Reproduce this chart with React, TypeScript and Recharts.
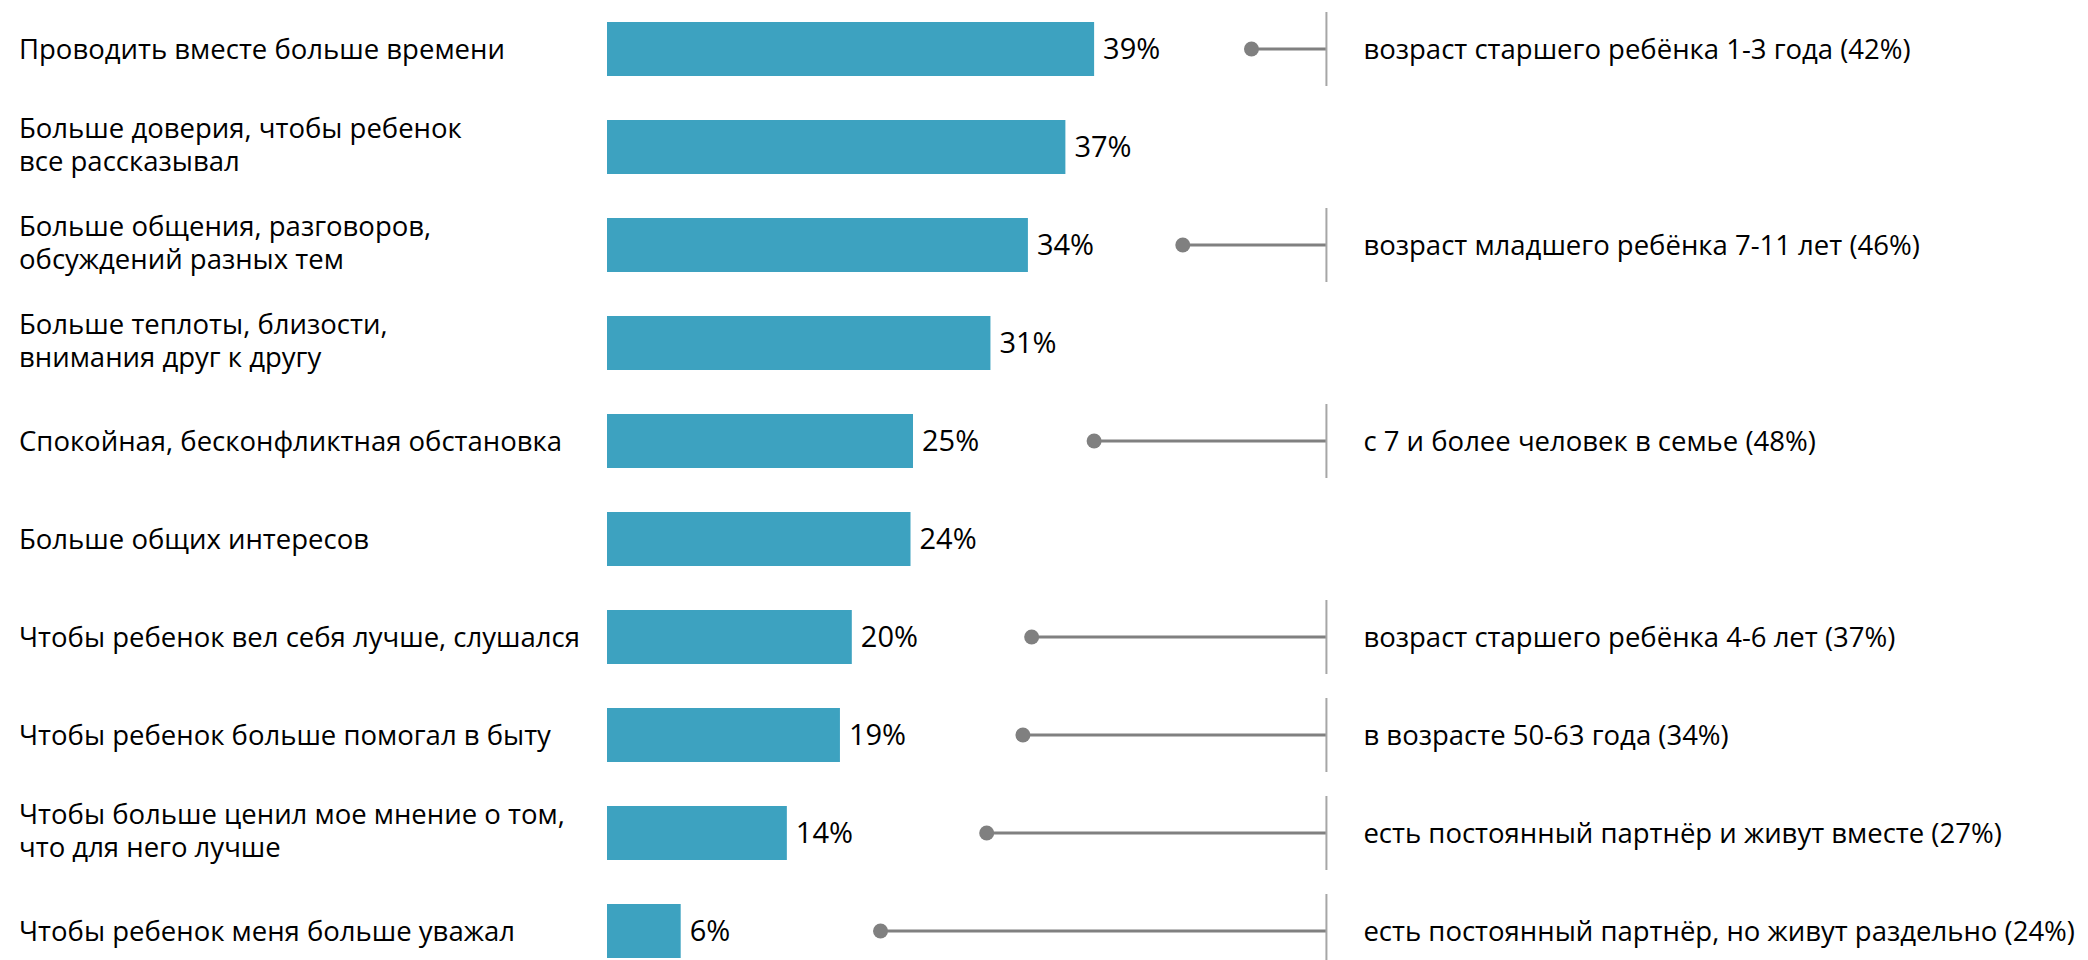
import { ComposedChart, Bar, XAxis, YAxis, LabelList } from 'recharts'

const categories = [
  'Проводить вместе больше времени',
  'Больше доверия, чтобы ребенок\nвсе рассказывал',
  'Больше общения, разговоров,\nобсуждений разных тем',
  'Больше теплоты, близости,\nвнимания друг к другу',
  'Спокойная, бесконфликтная обстановка',
  'Больше общих интересов',
  'Чтобы ребенок вел себя лучше, слушался',
  'Чтобы ребенок больше помогал в быту',
  'Чтобы больше ценил мое мнение о том,\nчто для него лучше',
  'Чтобы ребенок меня больше уважал',
]

// share of respondents, %
const shares = [39.0, 36.7, 33.7, 30.7, 24.5, 24.3, 19.6, 18.65, 14.4, 5.9]

// lollipop marker start (same scale as the bars) and the common end point
const markerFrom = [51.6, null, 46.1, null, 39.0, null, 34.0, 33.3, 30.4, 21.9]
const markerTo = 57.6

const notes = [
  'возраст старшего ребёнка 1-3 года (42%)',
  '',
  'возраст младшего ребёнка 7-11 лет (46%)',
  '',
  'с 7 и более человек в семье (48%)',
  '',
  'возраст старшего ребёнка 4-6 лет (37%)',
  'в возрасте 50-63 года (34%)',
  'есть постоянный партнёр и живут вместе (27%)',
  'есть постоянный партнёр, но живут раздельно (24%)',
]

const FONT = '"Open Sans", sans-serif'
const FONT_SIZE = 27.5
const BAR_COLOR = '#3da2c0'
const MARKER_COLOR = '#808080'

const data = categories.map((name, i) => ({
  name,
  share: shares[i],
  marker: markerFrom[i] != null ? [markerFrom[i], markerTo] : null,
  note: notes[i],
}))

function CategoryTick({ y, payload }: any) {
  const lines = String(payload.value).split('\n')
  const lineH = 33
  const start = -((lines.length - 1) * lineH) / 2
  return (
    <text x={19} y={y} fontFamily={FONT} fontSize={FONT_SIZE} fill="#000" textAnchor="start">
      {lines.map((l, i) => (
        <tspan key={i} x={19} y={y + start + i * lineH - (lines.length > 1 ? 2 : 0)} dy="0.36em">
          {l}
        </tspan>
      ))}
    </text>
  )
}

function Marker(props: any) {
  const { x, y, width, height, payload } = props
  if (!payload || !payload.note || width == null || isNaN(width)) return null
  const cy = y + height / 2
  const x1 = x + width
  return (
    <g>
      <line x1={x} x2={x1} y1={cy} y2={cy} stroke={MARKER_COLOR} strokeWidth={3} />
      <circle cx={x} cy={cy} r={7.5} fill={MARKER_COLOR} />
      <line x1={x1} x2={x1} y1={cy - 37} y2={cy + 37} stroke="#a6a6a6" strokeWidth={2} />
      <text x={x1 + 37} y={cy} dy="0.36em" fontFamily={FONT} fontSize={FONT_SIZE} fill="#000">
        {payload.note}
      </text>
    </g>
  )
}

export default function App() {
  return (
    <div style={{ width: 2088, height: 960, overflow: 'hidden', background: '#fff' }}>
      <style>{'body{margin:0}'}</style>
      <ComposedChart
        layout="vertical"
        width={2088}
        height={980}
        data={data}
        margin={{ top: 0, right: 232, bottom: 0, left: 0 }}
      >
        <XAxis type="number" domain={[0, 100]} hide />
        <YAxis
          type="category"
          dataKey="name"
          width={607}
          axisLine={false}
          tickLine={false}
          tick={<CategoryTick />}
          interval={0}
        />
        <YAxis yAxisId="m" type="category" dataKey="name" hide />
        <Bar dataKey="share" fill={BAR_COLOR} barSize={54} isAnimationActive={false}>
          <LabelList
            dataKey="share"
            position="right"
            offset={9}
            formatter={(v: any) => `${Math.round(Number(v))}%`}
            fill="#000"
            fontSize={29}
            fontFamily={FONT}
          />
        </Bar>
        <Bar
          yAxisId="m"
          dataKey="marker"
          barSize={74}
          shape={<Marker />}
          isAnimationActive={false}
        />
      </ComposedChart>
    </div>
  )
}
